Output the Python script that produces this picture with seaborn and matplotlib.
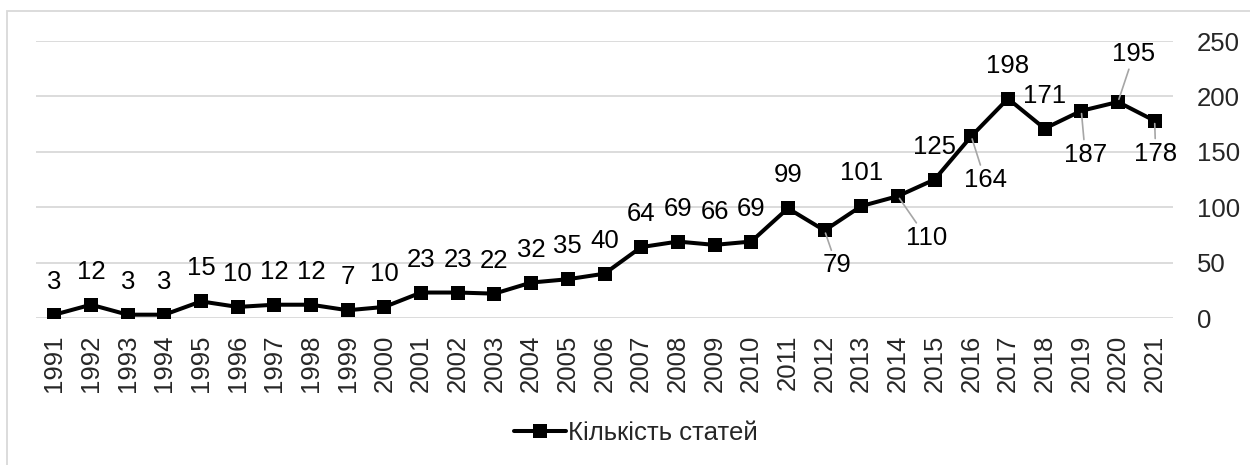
import numpy as np
import pandas as pd
import matplotlib
matplotlib.use('Agg')
import matplotlib.pyplot as plt
import seaborn as sns
from matplotlib.patches import Rectangle

years = list(range(1991, 2022))
articles = [3, 12, 3, 3, 15, 10, 12, 12, 7, 10, 23, 23, 22, 32, 35, 40,
            64, 69, 66, 69, 99, 79, 101, 110, 125, 164, 198, 171, 187, 195, 178]
series_name = 'Кількість статей'

# labels that sit away from the default spot (offset in pixels, leader line)
label_shift = {
    2012: (12, -35, True),
    2014: (29, -42, True),
    2016: (14, -44, True),
    2019: (4, -44, True),
    2021: (1, -33, True),
    2020: (16, 48, True),
}

df = pd.DataFrame({'Year': years, 'Count': articles, 'Series': series_name})

sns.set_style('white')
plt.rcParams['font.family'] = ['Liberation Sans', 'DejaVu Sans']
fs = 18.5

fig = plt.figure(figsize=(12.5, 4.65), dpi=100)
ax = fig.add_axes([0.0288, 0.3161, 0.9096, 0.5957])

sns.lineplot(data=df, x='Year', y='Count', hue='Series', palette=['black'],
             marker='s', markersize=10.5, markeredgewidth=0, linewidth=2.9, ax=ax)

for yr, val in zip(years, articles):
    dx, dy, lead = label_shift.get(yr, (0, 33, False))
    arrow = dict(arrowstyle='-', color='#a6a6a6', lw=1.2, shrinkA=0, shrinkB=2) if lead else None
    ax.annotate(str(val), xy=(yr, val), xytext=(dx, dy), textcoords='offset pixels',
                ha='center', va='center', fontsize=fs, color='black',
                arrowprops=arrow, zorder=5)

ax.set_xlim(1990.5, 2021.5)
ax.set_ylim(0, 250)
ax.set_xticks(years)
ax.set_xticklabels([str(y) for y in years], rotation=90, fontsize=fs)
ax.set_yticks(range(0, 251, 50))
ax.yaxis.tick_right()
ax.tick_params(axis='y', labelsize=fs, length=0, pad=17)
ax.tick_params(axis='x', length=0, pad=12)
ax.grid(axis='y', color='#d9d9d9', linewidth=1.3)
ax.set_axisbelow(True)
for s in ax.spines.values():
    s.set_visible(False)
ax.set_xlabel('')
ax.set_ylabel('')

handles, labels = ax.get_legend_handles_labels()
ax.get_legend().remove()
fig.legend(handles, labels, loc='center', bbox_to_anchor=(0.509, 0.069), frameon=False,
           fontsize=fs, handlelength=2.0, handletextpad=0.1)

fig.patches.append(Rectangle((7 / 1250, -0.1), 1.0, 1.1 - 11 / 465, transform=fig.transFigure,
                             fill=False, edgecolor='#d9d9d9', linewidth=1.3))

fig.savefig('out.png', dpi=100)
